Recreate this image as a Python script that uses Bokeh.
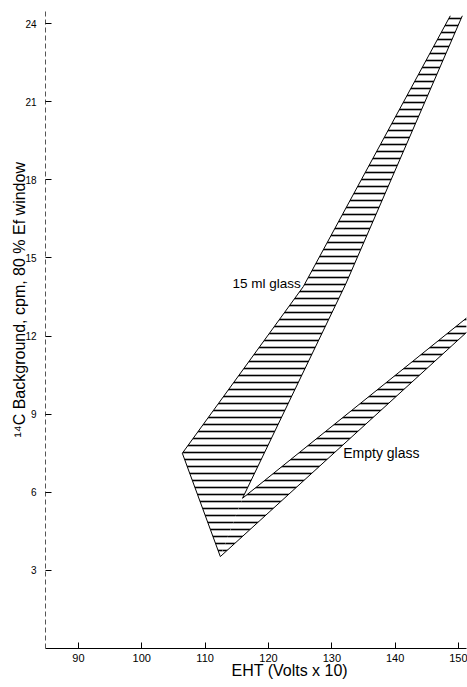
from bokeh.plotting import figure
from bokeh.models import Label, FixedTicker, Title
from bokeh.embed import file_html
from bokeh.resources import INLINE

# ---- data ----
x_ticks = [90, 100, 110, 120, 130, 140, 150]
y_ticks = [3, 6, 9, 12, 15, 18, 21, 24]

# 15 ml glass band
ml15_left_x = [106.4, 125.5, 148.7]
ml15_left_y = [7.5, 13.9, 24.3]
ml15_right_x = [115.9, 132.2, 150.6]
ml15_right_y = [5.77, 14.0, 24.3]
tip_x = [112.4]
tip_y = [3.53]

# Empty glass band
empty_lower_x = [112.4, 151.3]
empty_lower_y = [3.53, 12.15]
empty_upper_x = [115.9, 151.3]
empty_upper_y = [5.77, 12.7]

FONT = "Liberation Sans"

p = figure(width=467, height=687, x_range=(84.8, 151.26), y_range=(0, 24.58),
           output_backend="svg", toolbar_location=None,
           min_border_left=45, min_border_right=1, min_border_top=8, min_border_bottom=39)
p.outline_line_color = None
p.xgrid.visible = False
p.ygrid.visible = False
p.background_fill_color = "white"

# bands
poly15_x = ml15_left_x + ml15_right_x[::-1] + tip_x
poly15_y = ml15_left_y + ml15_right_y[::-1] + tip_y
polyE_x = empty_lower_x + empty_upper_x[::-1]
polyE_y = empty_lower_y + empty_upper_y[::-1]
p.patches([poly15_x, polyE_x], [poly15_y, polyE_y], fill_color="white", line_color=None,
          hatch_pattern="horizontal_line", hatch_color="black", hatch_scale=7, hatch_weight=1.6)

# edges
p.line(tip_x + ml15_left_x, tip_y + ml15_left_y, line_color="black", line_width=1)
p.line(ml15_right_x, ml15_right_y, line_color="black", line_width=1)
p.line(empty_lower_x, empty_lower_y, line_color="black", line_width=1)
p.line(empty_upper_x, empty_upper_y, line_color="black", line_width=1)

# labels
p.add_layout(Label(x=125.1, y=14.0, text="15 ml glass", text_align="right", text_baseline="middle",
                   text_font=FONT, text_font_size="13.5px", text_color="black"))
p.add_layout(Label(x=131.8, y=7.5, text="Empty glass", text_align="left", text_baseline="middle",
                   text_font=FONT, text_font_size="14px", text_color="black"))

# axes
p.xaxis.ticker = FixedTicker(ticks=x_ticks)
p.yaxis.ticker = FixedTicker(ticks=y_ticks)
for ax in (p.xaxis[0], p.yaxis[0]):
    ax.major_tick_in = 6
    ax.major_tick_out = 0
    ax.minor_tick_in = 0
    ax.minor_tick_out = 0
    ax.major_tick_line_color = "black"
    ax.axis_line_color = "black"
    ax.major_label_text_font = FONT
    ax.major_label_text_color = "black"
p.xaxis.major_label_text_font_size = "11px"
p.yaxis.major_label_text_font_size = "10px"
p.xaxis.major_label_standoff = 5
p.yaxis.major_label_standoff = 9
p.yaxis.axis_line_dash = "5 3"
p.yaxis.axis_line_color = "#555555"

# axis titles as side titles (offset to match the original placement)
p.add_layout(Title(text="\u00b9\u2074C Background, cpm, 80 % Ef window", align="left",
                   offset=211, standoff=-10, text_font=FONT, text_font_size="16px",
                   text_font_style="normal", text_color="black"), "left")
p.add_layout(Title(text="EHT (Volts x 10)", align="left", offset=186, standoff=-5,
                   vertical_align="top",
                   text_font=FONT, text_font_size="16px", text_font_style="normal",
                   text_color="black"), "below")

open("out.html", "w").write(file_html(p, INLINE))
